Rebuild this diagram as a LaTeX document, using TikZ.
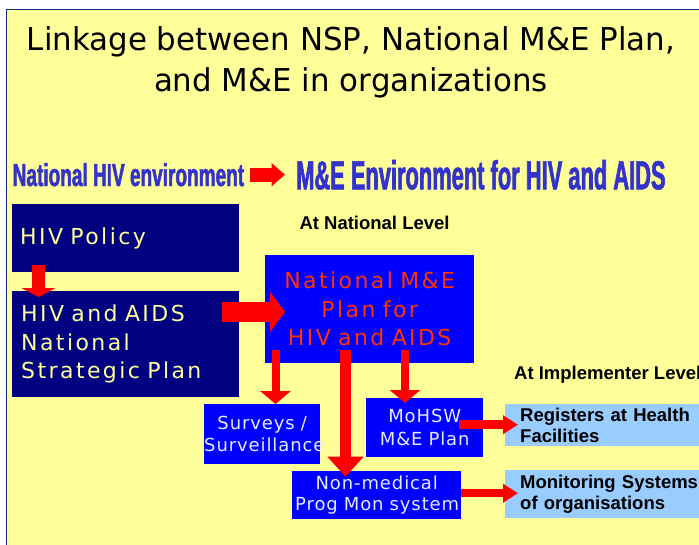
\documentclass[tikz,border=0pt]{standalone}
\usepackage{fontspec}
\usepackage{xcolor}
\setmainfont{DejaVu Sans}
\newfontfamily\titlefont{DejaVu Sans}[FakeStretch=0.98]
\newfontfamily\boxfont{DejaVu Sans}[LetterSpace=11,WordSpace=1.6]
\newfontfamily\smallboxfont{DejaVu Sans}[LetterSpace=5,WordSpace=1.3]
\newfontfamily\labelfont{Liberation Sans}
\newfontfamily\bannerfont{Liberation Sans}[FakeStretch=0.60,FakeBold=1.5]
\newfontfamily\bannerfonttight{Liberation Sans}[FakeStretch=0.54,FakeBold=1.5]
\usetikzlibrary{arrows.meta}

\definecolor{slideyellow}{HTML}{FFFF99}
\definecolor{framenavy}{HTML}{102A8C}
\definecolor{navybox}{HTML}{000080}
\definecolor{brightblue}{HTML}{0000FF}
\definecolor{paleblue}{HTML}{99CCFF}
\definecolor{bannerblue}{HTML}{3333CC}
\definecolor{planred}{HTML}{FF3300}
\definecolor{paletext}{HTML}{E4EAFF}

\begin{document}
\begin{tikzpicture}[x=1pt,y=-1pt]
\useasboundingbox (0,0) rectangle (699,544);
\clip (0,0) rectangle (699,544);
\fill[white] (0,0) rectangle (699,544);
\draw[framenavy,fill=slideyellow,line width=1.2pt] (6.5,9.5) rectangle (720,560);

% title and headings
\node (title) [anchor=north,inner sep=0,align=center,
    font={\titlefont\fontsize{31.5}{41}\selectfont}] at (351,26)
    {Linkage between NSP, National M\&E Plan,\\and M\&E in organizations};
\node (envnat) [anchor=base west,inner sep=0,text=bannerblue,
    font={\bannerfont\bfseries\fontsize{31.7}{34}\selectfont}] at (12.5,186)
    {National HIV environment};
\node (envme) [anchor=base west,inner sep=0,text=bannerblue,
    font={\bannerfonttight\bfseries\fontsize{40.5}{44}\selectfont}] at (296,189.3)
    {M\&E Environment for HIV and AIDS};
\node (natlevel) [anchor=base west,inner sep=0,
    font={\labelfont\bfseries\fontsize{18.5}{21.5}\selectfont}] at (299.3,229.3)
    {At National Level};
\node (implevel) [anchor=base west,inner sep=0,
    font={\labelfont\bfseries\fontsize{18.5}{21.5}\selectfont}] at (514,379)
    {At Implementer Level};

\begin{scope}[every node/.style={anchor=north west,inner ysep=0}]
    \node (pol) [fill=navybox,text=slideyellow,inner xsep=8,text width=211,
        minimum height=68,align=left,
        font={\boxfont\fontsize{22}{28.5}\selectfont}] at (12,204) {HIV Policy};
    \node (nsp) [fill=navybox,text=slideyellow,inner xsep=9,text width=209,
        minimum height=106,align=left,
        font={\boxfont\fontsize{22}{28.5}\selectfont}] at (12,291)
        {HIV and AIDS\\National\\Strategic Plan};
    \node (nme) [fill=brightblue,text=planred,inner xsep=4,text width=201,
        minimum height=108,align=center,
        font={\boxfont\fontsize{22}{28.5}\selectfont}] at (265,255)
        {National M\&E\\Plan for\\HIV and AIDS};

    \node (surv) [fill=brightblue,text=paletext,inner xsep=0,text width=116,
        minimum height=60,align=center,
        font={\smallboxfont\fontsize{18}{21.7}\selectfont}] at (204,404)
        {Surveys /\\Surveillance};
    \node (mohsw) [fill=brightblue,text=paletext,inner xsep=0,text width=117,
        minimum height=59,align=center,
        font={\smallboxfont\fontsize{18}{23}\selectfont}] at (366,398)
        {MoHSW\\M\&E Plan};
    \node (nonmed) [fill=brightblue,text=paletext,inner xsep=3,text width=163,
        minimum height=48,align=center,
        font={\smallboxfont\fontsize{18}{21.6}\selectfont}] at (292,471)
        {Non-medical\\\mbox{Prog Mon system}};

    \node (reg) [fill=paleblue,inner xsep=15,text width=190,
        minimum height=42,align=left,
        font={\labelfont\bfseries\fontsize{18.5}{21.6}\selectfont}] at (505,404)
        {Registers at Health\\Facilities};
    \node (mon) [fill=paleblue,inner xsep=15,text width=190,
        minimum height=48,align=left,
        font={\labelfont\bfseries\fontsize{18.5}{21}\selectfont}] at (505,470)
        {Monitoring Systems\\of organisations};
\end{scope}

\begin{scope}[every edge/.style={draw=red},
    bannerarrow/.style={line width=13.7pt,-{Triangle[length=13.3pt,width=22.3pt]}},
    droparrow/.style={line width=13pt,-{Triangle[length=9pt,width=34pt]}},
    hugearrow/.style={line width=20pt,-{Triangle[length=15pt,width=40pt]}},
    thinarrow/.style={line width=8pt,-{Triangle[length=13pt,width=30pt]}},
    midarrow/.style={line width=11pt,-{Triangle[length=20pt,width=35pt]}},
    sidearrow/.style={line width=8.5pt,-{Triangle[length=15pt,width=18pt]}}]
    \path ([xshift=6pt]envnat.east) edge[bannerarrow]
          ([xshift=-11pt]envnat.east -| envme.west);
    \path ([xshift=26.5pt,yshift=7pt]pol.south west) edge[droparrow]
          ([xshift=26.5pt,yshift=-6pt]nsp.north west);
    \path ([xshift=-17pt,yshift=32.3pt]nsp.east) edge[hugearrow]
          ([xshift=20pt,yshift=-2.7pt]nme.west);

    \path ([xshift=10.5pt,yshift=13pt]nme.south west) edge[thinarrow]
          ([xshift=71.5pt]surv.north west);
    \path ([xshift=80.5pt,yshift=13pt]nme.south west) edge[midarrow]
          ([xshift=53.5pt,yshift=-5.7pt]nonmed.north west);
    \path ([xshift=140pt,yshift=13pt]nme.south west) edge[thinarrow]
          ([xshift=39pt,yshift=-5pt]mohsw.north west);

    \path ([xshift=-24pt,yshift=3pt]mohsw.east) edge[sidearrow]
          ([xshift=13pt,yshift=0.5pt]reg.west);
    \path ([yshift=2pt]nonmed.east) edge[sidearrow]
          ([xshift=13pt,yshift=1pt]mon.west);
\end{scope}
\end{tikzpicture}
\end{document}
